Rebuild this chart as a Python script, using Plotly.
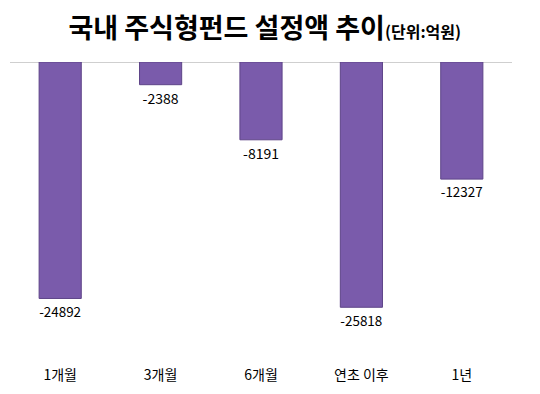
import plotly.graph_objects as go

categories = ["1개월", "3개월", "6개월", "연초 이후", "1년"]
values = [-24892, -2388, -8191, -25818, -12327]
labels = [str(v) for v in values]

FONT = "Noto Sans CJK KR"

# page body has an 8px margin; figure is sized/offset to compensate
W, H = 524, 378

fig = go.Figure()
fig.add_trace(go.Bar(
    x=categories, y=values, text=labels, textposition="outside",
    textfont=dict(family=FONT, size=14, color="#000000"),
    marker=dict(color="#7A5BAB", line=dict(color="#5E4488", width=1)),
    width=0.42, cliponaxis=False,
))
fig.add_shape(type="line", xref="paper", yref="y", x0=0, x1=1, y0=0, y1=0,
              line=dict(color="#BFBFBF", width=1.3), layer="below")
fig.update_layout(
    width=W, height=H,
    margin=dict(l=2, r=20, t=54, b=37),
    paper_bgcolor="white", plot_bgcolor="white",
    showlegend=False,
    title=dict(
        text="<b>국내 주식형펀드 설정액 추이</b><b><span style='font-size:16px'>(단위:억원)</span></b>",
        x=0.49, xanchor="center", y=1 - 21 / H, yanchor="middle",
        font=dict(family=FONT, size=27, color="#000000"),
    ),
    xaxis=dict(showline=False, showgrid=False, ticks="",
               tickfont=dict(family=FONT, size=14, color="#000000"),
               ticklabelstandoff=18),
    yaxis=dict(range=[-30000, 0], visible=False, showgrid=False, zeroline=False),
)
fig.write_html("out.html")
